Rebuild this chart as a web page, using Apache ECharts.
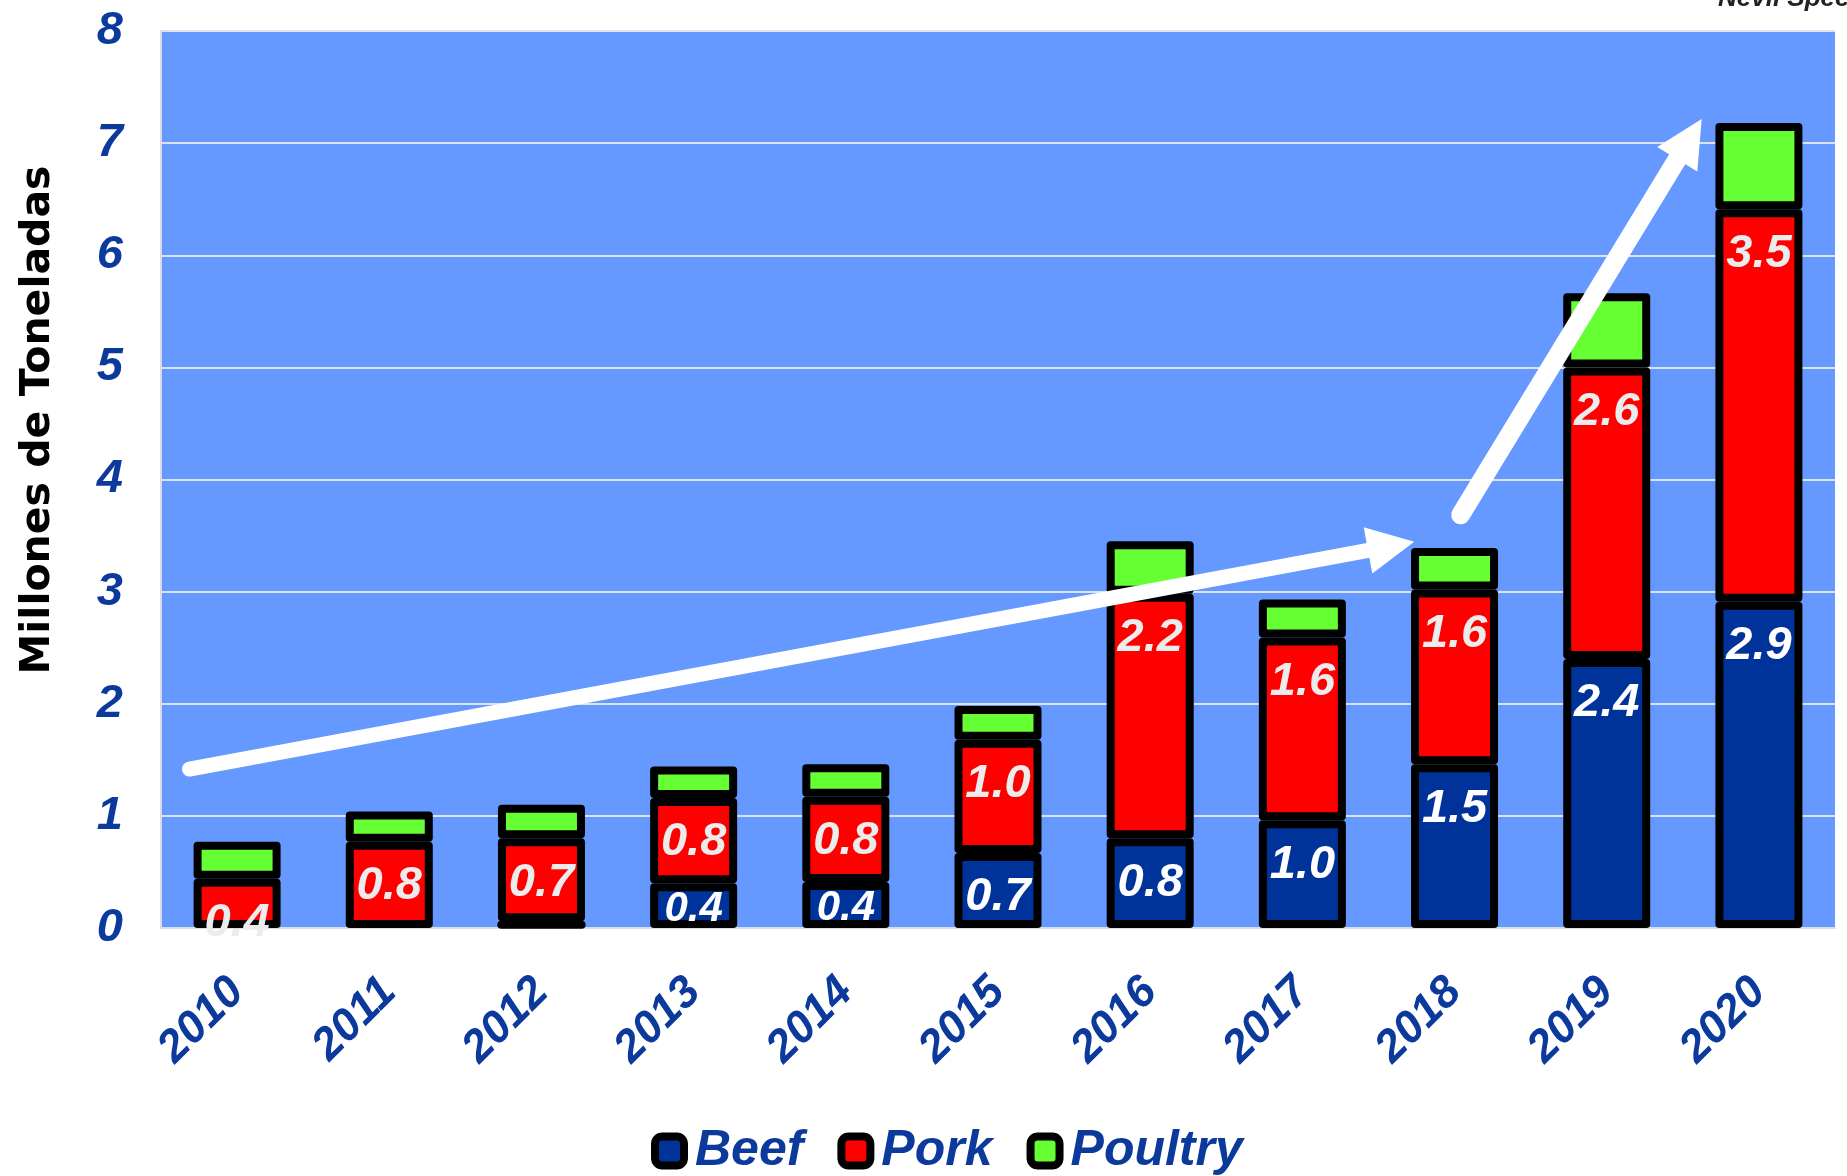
<!DOCTYPE html>
<html>
<head>
<meta charset="utf-8">
<script src="https://cdn.jsdelivr.net/npm/echarts@6/dist/echarts.min.js"></script>
<style>
html,body{margin:0;padding:0;background:#fff;}
#chart{width:1847px;height:1176px;}
</style>
</head>
<body>
<div id="chart"></div>
<script>
const categories = ['2010','2011','2012','2013','2014','2015','2016','2017','2018','2019','2020'];
const beef    = [0, 0, 0.06, 0.40, 0.41, 0.67, 0.80, 0.96, 1.46, 2.40, 2.91];
const pork    = [0.44, 0.77, 0.74, 0.76, 0.76, 1.01, 2.18, 1.63, 1.56, 2.60, 3.50];
const poultry = [0.33, 0.27, 0.30, 0.28, 0.29, 0.30, 0.47, 0.34, 0.37, 0.66, 0.77];
const yTicks = [0,1,2,3,4,5,6,7,8];
// trend arrows in data space: [categoryIndex (fractional), value]
const arrow1 = [[-0.313, 1.418], [7.735, 3.445]];
const arrow2 = [[8.040, 3.685], [9.624, 7.215]];

const FONT = '"Liberation Sans", Arial, sans-serif';
const BLUE_TXT = '#0b3a9c';

const chart = echarts.init(document.getElementById('chart'));

function labelCfg(color) {
  return {
    show: true, position: 'insideTop', distance: 21,
    formatter: p => (p.value >= 0.1 ? p.value.toFixed(1) : ''),
    fontFamily: FONT, fontSize: 47, fontWeight: 'bold', fontStyle: 'italic', color: color
  };
}
const itemBase = { borderColor: '#000', borderWidth: 8, borderJoin: 'round' };

const beefData = beef.map(v => v === 0 ? '-' : (v < 0.5 ? { value: v, label: { fontSize: 42, distance: 5 } } : v));

chart.setOption({
  animation: false,
  backgroundColor: '#ffffff',
  grid: { left: 161, right: 12, top: 31, bottom: 248, show: true, backgroundColor: '#6699ff', borderWidth: 0 },
  legend: {
    data: ['Beef','Pork','Poultry'],
    left: 651, top: 1126, padding: 0,
    icon: 'roundRect', itemWidth: 29, itemHeight: 29, itemGap: 34,
    itemStyle: { borderColor: '#000', borderWidth: 8 },
    textStyle: { fontFamily: FONT, fontSize: 50, fontWeight: 'bold', fontStyle: 'italic', color: BLUE_TXT, padding: [0,0,0,6] }
  },
  xAxis: {
    type: 'category', data: categories,
    axisLine: { show: true, lineStyle: { color: '#d8dce6', width: 2 } },
    axisTick: { show: false },
    axisLabel: { rotate: 45, margin: 57, fontFamily: FONT, fontSize: 45, fontWeight: 'bold', fontStyle: 'italic', color: BLUE_TXT }
  },
  yAxis: {
    type: 'value', min: yTicks[0], max: yTicks[yTicks.length-1], interval: 1,
    axisLine: { show: true, lineStyle: { color: '#d8dce6', width: 2 } },
    axisTick: { show: false },
    splitLine: { show: true, lineStyle: { color: '#dde2ee', width: 2 } },
    axisLabel: { margin: 38, fontFamily: FONT, fontSize: 47, fontWeight: 'bold', fontStyle: 'italic', color: BLUE_TXT }
  },
  series: [
    { name: 'Beef', type: 'bar', stack: 'm', data: beefData, barWidth: 87,
      itemStyle: Object.assign({ color: '#003399' }, itemBase), label: labelCfg('#ffffff') },
    { name: 'Pork', type: 'bar', stack: 'm', data: pork, barWidth: 87,
      itemStyle: Object.assign({ color: '#ff0000' }, itemBase), label: labelCfg('#ececec') },
    { name: 'Poultry', type: 'bar', stack: 'm', data: poultry, barWidth: 87,
      itemStyle: Object.assign({ color: '#66ff33' }, itemBase) }
  ]
});

// pixel position for a fractional category index and a value
function toPx(pt) {
  const p0 = chart.convertToPixel({ gridIndex: 0 }, [0, pt[1]]);
  const p1 = chart.convertToPixel({ gridIndex: 0 }, [1, pt[1]]);
  return [p0[0] + pt[0] * (p1[0] - p0[0]), p0[1]];
}

function arrowGraphics(pts, width) {
  const a = toPx(pts[0]);
  const b = toPx(pts[1]);
  const dx = b[0]-a[0], dy = b[1]-a[1];
  const len = Math.sqrt(dx*dx+dy*dy);
  const ux = dx/len, uy = dy/len, nx = -uy, ny = ux;
  const headLen = 47, headHalf = 23.5;
  const base = [b[0]-ux*headLen, b[1]-uy*headLen];
  return [
    { type: 'line', z: 100, shape: { x1: a[0], y1: a[1], x2: base[0]+ux*3, y2: base[1]+uy*3 },
      style: { stroke: '#ffffff', lineWidth: width, lineCap: 'round' } },
    { type: 'polygon', z: 100, shape: { points: [b, [base[0]+nx*headHalf, base[1]+ny*headHalf], [base[0]-nx*headHalf, base[1]-ny*headHalf]] },
      style: { fill: '#ffffff' } }
  ];
}

chart.setOption({
  graphic: [].concat(
    arrowGraphics(arrow1, 15),
    arrowGraphics(arrow2, 19),
    [
      { type: 'text', x: 38, y: 420, rotation: Math.PI/2,
        style: { text: 'Millones de Toneladas', fontFamily: '"DejaVu Sans", sans-serif', fontSize: 41, fontWeight: 'bold', fill: '#000', align: 'center', verticalAlign: 'middle' } },
      { type: 'text', x: 1718, y: -14,
        style: { text: 'Nevil Speer', fontFamily: FONT, fontSize: 26, fontWeight: 'bold', fontStyle: 'italic', fill: '#222', align: 'left', verticalAlign: 'top' } }
    ]
  )
});
</script>
</body>
</html>
